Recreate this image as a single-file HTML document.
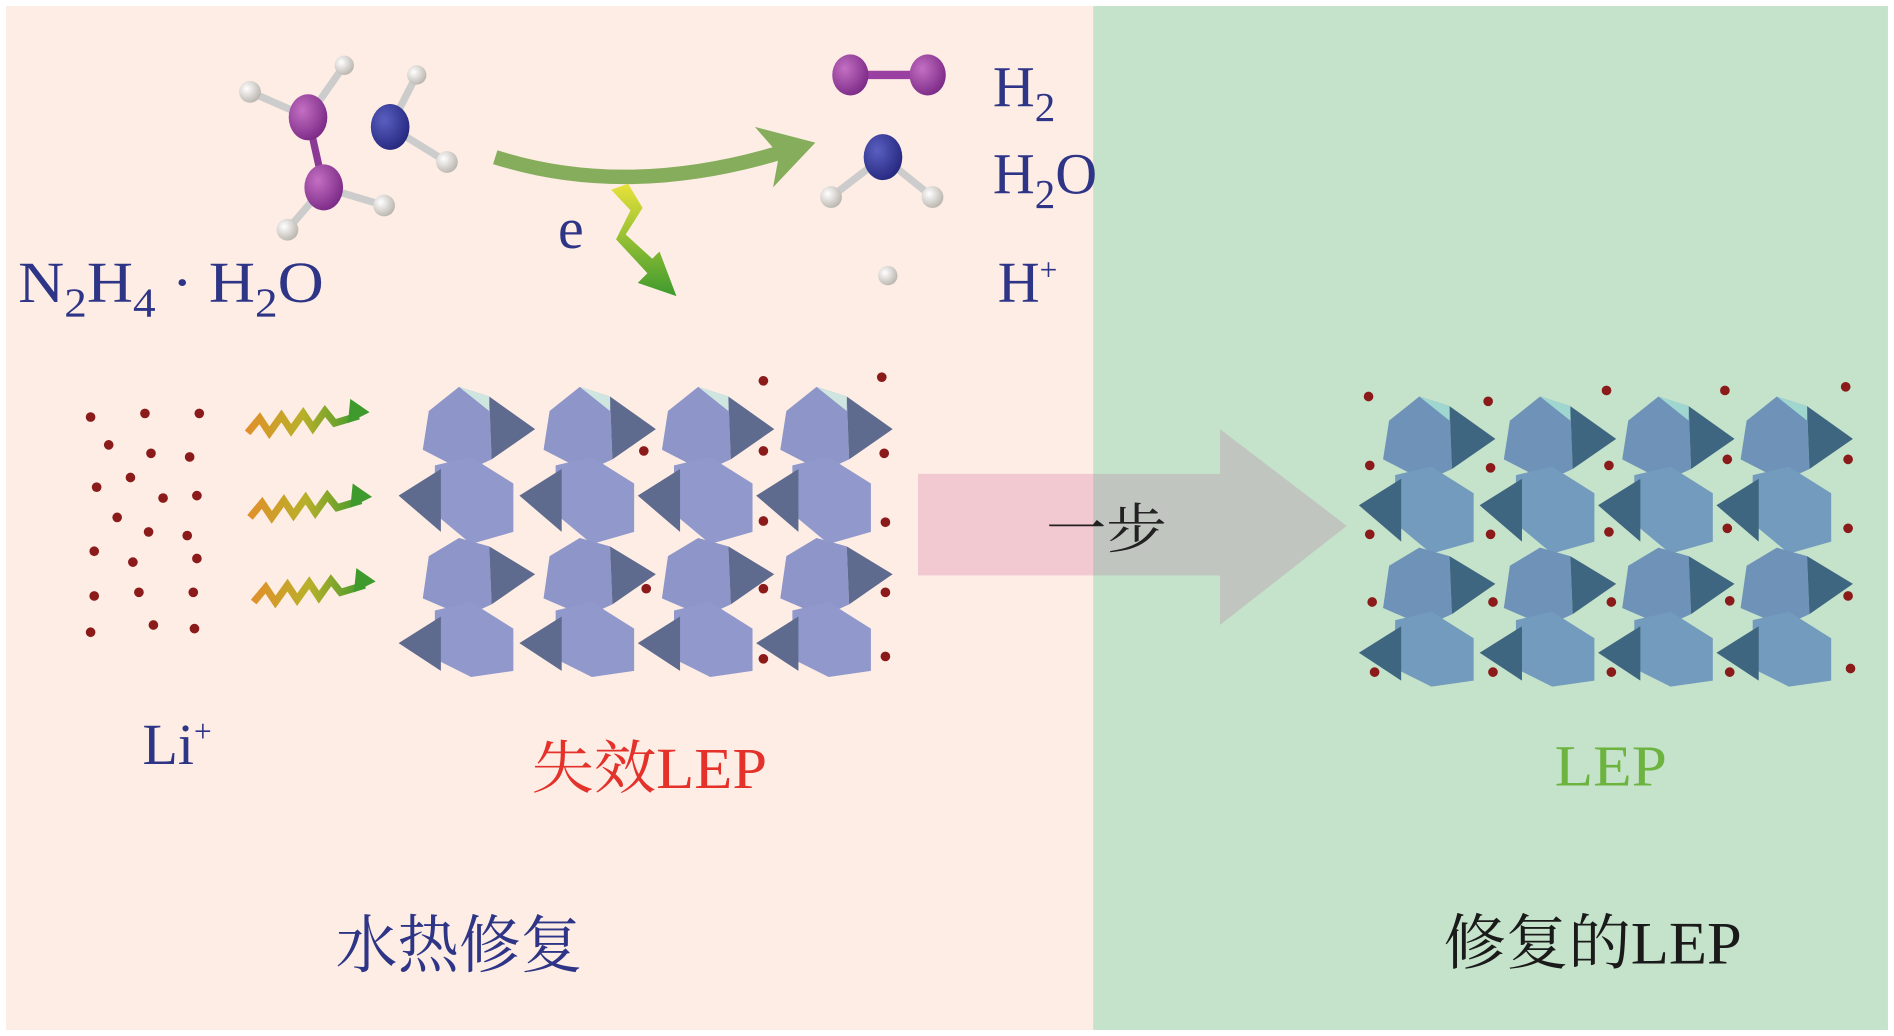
<!DOCTYPE html>
<html><head><meta charset="utf-8"><style>
html,body{margin:0;padding:0;background:#fff;}
svg{display:block;}
text{font-family:"Liberation Serif","Noto Serif CJK SC",serif;}
</style></head><body>
<svg width="1894" height="1036" viewBox="0 0 1568 857" preserveAspectRatio="none" xmlns="http://www.w3.org/2000/svg">
<defs>
<radialGradient id="gp" cx="35%" cy="35%" r="70%"><stop offset="0" stop-color="#c36fc3"/><stop offset="1" stop-color="#7b2a86"/></radialGradient>
<radialGradient id="gb" cx="35%" cy="35%" r="70%"><stop offset="0" stop-color="#5a5fc0"/><stop offset="1" stop-color="#26287f"/></radialGradient>
<radialGradient id="gw" cx="35%" cy="35%" r="70%"><stop offset="0" stop-color="#ffffff"/><stop offset="1" stop-color="#b9b4ad"/></radialGradient>
<linearGradient id="wave" x1="0" x2="1"><stop offset="0" stop-color="#e0902a"/><stop offset="0.5" stop-color="#b8b02a"/><stop offset="1" stop-color="#3f9a2e"/></linearGradient>
<linearGradient id="bolt" x1="0" y1="0" x2="0" y2="1"><stop offset="0" stop-color="#e8e23a"/><stop offset="1" stop-color="#3d9a2e"/></linearGradient>
<g id="col">
<polygon points="10,30 35,10 60,18 62,70 40,80 5,62" fill="#8e95c8"/>
<polygon points="60,18 98,45 62,70" fill="#5e6a8e"/>
<polygon points="35,10 60,18 60,30" fill="#cfe6e0"/>
<polygon points="15,75 45,68 80,90 80,130 45,140 15,115" fill="#9198cc"/>
<polygon points="-15,100 20,78 20,130" fill="#5e6a8e"/>
<polygon points="10,150 35,135 60,142 62,190 40,200 5,185" fill="#8e95c8"/>
<polygon points="60,142 98,165 62,190" fill="#5e6a8e"/>
<polygon points="15,195 45,188 80,210 80,245 45,250 15,235" fill="#9198cc"/>
<polygon points="-15,222 20,200 20,245" fill="#5e6a8e"/>
</g>
<g id="col2">
<polygon points="10,30 35,10 60,18 62,70 40,80 5,62" fill="#6f93b8"/>
<polygon points="60,18 98,45 62,70" fill="#3f6680"/>
<polygon points="35,10 60,18 60,30" fill="#9fd6d0"/>
<polygon points="15,75 45,68 80,90 80,130 45,140 15,115" fill="#739bbd"/>
<polygon points="-15,100 20,78 20,130" fill="#3f6680"/>
<polygon points="10,150 35,135 60,142 62,190 40,200 5,185" fill="#6f93b8"/>
<polygon points="60,142 98,165 62,190" fill="#3f6680"/>
<polygon points="15,195 45,188 80,210 80,245 45,250 15,235" fill="#739bbd"/>
<polygon points="-15,222 20,200 20,245" fill="#3f6680"/>
</g>
</defs>
<rect width="1568" height="857" fill="#fff"/>
<rect x="5" y="5" width="900" height="847" fill="#fdede4"/>
<rect x="905" y="5" width="658" height="847" fill="#c5e3ca"/>

<g stroke-width="6" stroke-linecap="round">
<line x1="255" y1="97" x2="268" y2="155" stroke="#8a3a95"/>
<line x1="255" y1="97" x2="207" y2="76" stroke="#ccc"/>
<line x1="255" y1="97" x2="285" y2="54" stroke="#ccc"/>
<line x1="268" y1="155" x2="318" y2="170" stroke="#ccc"/>
<line x1="268" y1="155" x2="238" y2="190" stroke="#ccc"/>
<line x1="323" y1="105" x2="345" y2="62" stroke="#ccc"/>
<line x1="323" y1="105" x2="370" y2="134" stroke="#ccc"/>
<line x1="704" y1="62" x2="768" y2="62" stroke="#9a40a3" stroke-width="7"/>
<line x1="731" y1="130" x2="688" y2="163" stroke="#ccc"/>
<line x1="731" y1="130" x2="772" y2="163" stroke="#ccc"/>
</g>
<ellipse cx="255" cy="97" rx="16" ry="19" fill="url(#gp)"/>
<ellipse cx="268" cy="155" rx="16" ry="19" fill="url(#gp)"/>
<ellipse cx="323" cy="105" rx="16" ry="19" fill="url(#gb)"/>
<circle cx="207" cy="76" r="9" fill="url(#gw)"/><circle cx="285" cy="54" r="8" fill="url(#gw)"/>
<circle cx="318" cy="170" r="9" fill="url(#gw)"/><circle cx="238" cy="190" r="9" fill="url(#gw)"/>
<circle cx="345" cy="62" r="8" fill="url(#gw)"/><circle cx="370" cy="134" r="9" fill="url(#gw)"/>
<ellipse cx="704" cy="62" rx="15" ry="17" fill="url(#gp)"/>
<ellipse cx="768" cy="62" rx="15" ry="17" fill="url(#gp)"/>
<ellipse cx="731" cy="130" rx="16" ry="19" fill="url(#gb)"/>
<circle cx="688" cy="163" r="9" fill="url(#gw)"/><circle cx="772" cy="163" r="9" fill="url(#gw)"/>
<circle cx="735" cy="228" r="8" fill="url(#gw)"/>

<path d="M410 130 Q520 165 650 125" fill="none" stroke="#86ad5c" stroke-width="12"/>
<polygon points="625,105 675,118 640,155 645,128" fill="#86ad5c"/>
<polygon points="506,157 520,152 532,172 518,194 540,214 546,208 560,245 528,234 536,226 510,198 522,174" fill="url(#bolt)"/>

<g fill="none" stroke="url(#wave)" stroke-width="6" stroke-linejoin="miter">
<path d="M205 358 l10 -12 l8 12 l10 -14 l8 12 l10 -14 l8 12 l10 -14 l8 10 l20 -6"/>
<path d="M207 428 l10 -12 l8 12 l10 -14 l8 12 l10 -14 l8 12 l10 -14 l8 10 l20 -6"/>
<path d="M210 498 l10 -12 l8 12 l10 -14 l8 12 l10 -14 l8 12 l10 -14 l8 10 l20 -6"/>
</g>
<g fill="#3f9a2e">
<polygon points="290,330 306,341 288,350"/>
<polygon points="292,400 308,411 290,420"/>
<polygon points="295,470 311,481 293,490"/>
</g>

<rect x="760" y="392" width="145" height="84" fill="#f2c9d0"/>
<rect x="905" y="392" width="105" height="84" fill="#c0c6bf"/>
<polygon points="1010,355 1115,435 1010,517" fill="#c0c6bf"/>

<g transform="translate(345,310)">
<use href="#col"/><use href="#col" x="100"/><use href="#col" x="198"/><use href="#col" x="296"/>
</g>
<g transform="translate(1140,318)">
<use href="#col2"/><use href="#col2" x="100"/><use href="#col2" x="198"/><use href="#col2" x="296"/>
</g>

<g fill="#8b1a1a">
<circle cx="75" cy="345" r="4"/><circle cx="120" cy="342" r="4"/><circle cx="165" cy="342" r="4"/>
<circle cx="90" cy="368" r="4"/><circle cx="125" cy="375" r="4"/><circle cx="157" cy="378" r="4"/>
<circle cx="80" cy="403" r="4"/><circle cx="108" cy="395" r="4"/><circle cx="135" cy="412" r="4"/><circle cx="163" cy="410" r="4"/>
<circle cx="97" cy="428" r="4"/><circle cx="123" cy="440" r="4"/><circle cx="155" cy="443" r="4"/>
<circle cx="78" cy="456" r="4"/><circle cx="110" cy="465" r="4"/><circle cx="163" cy="462" r="4"/>
<circle cx="78" cy="493" r="4"/><circle cx="115" cy="490" r="4"/><circle cx="160" cy="490" r="4"/>
<circle cx="75" cy="523" r="4"/><circle cx="127" cy="517" r="4"/><circle cx="161" cy="520" r="4"/>
<circle cx="632" cy="315" r="4"/><circle cx="730" cy="312" r="4"/><circle cx="533" cy="373" r="4"/><circle cx="632" cy="373" r="4"/><circle cx="732" cy="375" r="4"/>
<circle cx="632" cy="431" r="4"/><circle cx="733" cy="432" r="4"/><circle cx="535" cy="487" r="4"/><circle cx="632" cy="487" r="4"/><circle cx="733" cy="490" r="4"/>
<circle cx="632" cy="545" r="4"/><circle cx="733" cy="543" r="4"/>
<circle cx="1133" cy="328" r="4"/><circle cx="1232" cy="332" r="4"/><circle cx="1330" cy="323" r="4"/><circle cx="1428" cy="323" r="4"/><circle cx="1528" cy="320" r="4"/>
<circle cx="1134" cy="385" r="4"/><circle cx="1234" cy="387" r="4"/><circle cx="1332" cy="385" r="4"/><circle cx="1430" cy="380" r="4"/><circle cx="1530" cy="380" r="4"/>
<circle cx="1134" cy="442" r="4"/><circle cx="1234" cy="442" r="4"/><circle cx="1332" cy="440" r="4"/><circle cx="1430" cy="437" r="4"/><circle cx="1530" cy="437" r="4"/>
<circle cx="1136" cy="498" r="4"/><circle cx="1236" cy="498" r="4"/><circle cx="1334" cy="498" r="4"/><circle cx="1432" cy="497" r="4"/><circle cx="1530" cy="493" r="4"/>
<circle cx="1138" cy="556" r="4"/><circle cx="1236" cy="556" r="4"/><circle cx="1334" cy="556" r="4"/><circle cx="1432" cy="556" r="4"/><circle cx="1532" cy="553" r="4"/>
</g>

<g fill="#2e3586" font-size="48">
<text x="15" y="250" textLength="253" lengthAdjust="spacingAndGlyphs">N<tspan font-size="34" dy="12">2</tspan><tspan dy="-12">H</tspan><tspan font-size="34" dy="12">4</tspan><tspan dy="-12"> · H</tspan><tspan font-size="34" dy="12">2</tspan><tspan dy="-12">O</tspan></text>
<text x="822" y="88">H<tspan font-size="34" dy="12">2</tspan></text>
<text x="822" y="160">H<tspan font-size="34" dy="12">2</tspan><tspan dy="-12">O</tspan></text>
<text x="826" y="250">H<tspan font-size="26" dy="-18">+</tspan></text>
<text x="462" y="205">e</text>
<text x="118" y="632">Li<tspan font-size="26" dy="-18">+</tspan></text>
<text x="278" y="800" font-size="52" textLength="204" lengthAdjust="spacingAndGlyphs">水热修复</text>
</g>
<text x="440" y="652" font-size="48" fill="#e4312a" textLength="195" lengthAdjust="spacingAndGlyphs">失效LEP</text>
<text x="1287" y="650" font-size="48" fill="#6cb33f" textLength="93" lengthAdjust="spacingAndGlyphs">LEP</text>
<text x="1195" y="797" font-size="50" fill="#1a1a1a" textLength="247" lengthAdjust="spacingAndGlyphs">修复的LEP</text>
<text x="866" y="453" font-size="44" fill="#222" textLength="100" lengthAdjust="spacingAndGlyphs">一步</text>
</svg>
</body></html>
